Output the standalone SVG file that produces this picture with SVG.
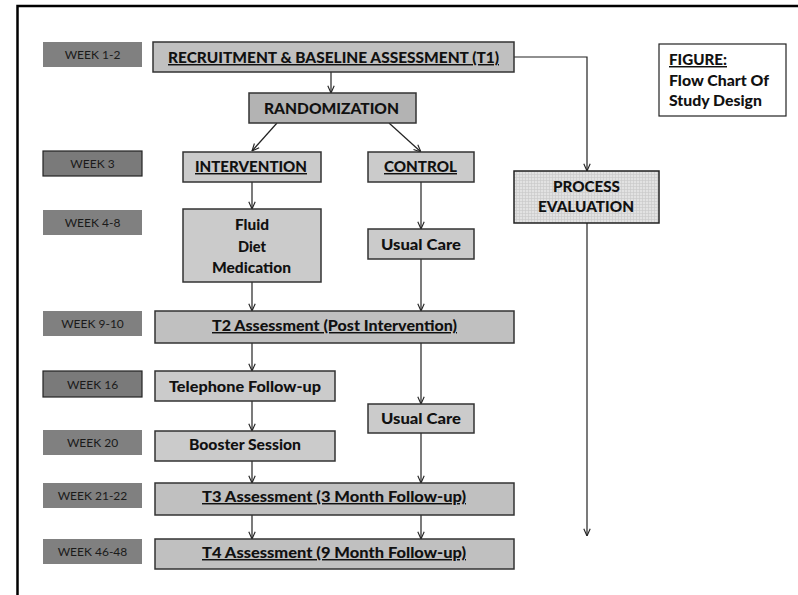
<svg xmlns="http://www.w3.org/2000/svg" width="798" height="595" viewBox="0 0 798 595">
<style>
.wk{fill:#808080;stroke:none}
.wkb{fill:#7a7a7a;stroke:#222;stroke-width:1.2}
.wt{font-family:"Lato","Liberation Sans",sans-serif;font-size:12px;fill:#1a1a1a;text-anchor:middle}
.b{stroke:#333;stroke-width:1.5}
.f1{fill:#c0c0c0}
.f2{fill:#cbcbcb}
.f3{fill:#b3b3b3}
.t{font-family:"Lato","Liberation Sans",sans-serif;font-weight:900;font-size:14.5px;fill:#111;text-anchor:middle}
.u{text-decoration:underline}
.c{fill:none;stroke:#222;stroke-width:1.2}
</style>
<defs>
<marker id="ah" viewBox="0 0 10 10" refX="10" refY="5" markerWidth="8" markerHeight="8" markerUnits="userSpaceOnUse" orient="auto">
<polyline points="1,1 10,5 1,9" fill="none" stroke="#222" stroke-width="1.4"/>
</marker>
<pattern id="grid" width="3" height="3" patternUnits="userSpaceOnUse">
<rect width="3" height="3" fill="#e2e2e2"/>
<path d="M0 0.5H3M0.5 0V3" stroke="#c8c8c8" stroke-width="0.6"/>
</pattern>
</defs>
<rect width="798" height="595" fill="#fff"/>
<path d="M17.5 600V6H800" fill="none" stroke="#000" stroke-width="2.5"/>

<g id="weeks">
<g id="w1"><rect class="wk" x="43" y="42" width="99" height="25"/><text class="wt" x="92.5" y="59">WEEK 1-2</text></g>
<g id="w3"><rect class="wkb" x="43" y="151" width="99" height="25"/><text class="wt" x="92.5" y="168">WEEK 3</text></g>
<g id="w4"><rect class="wk" x="43" y="210" width="99" height="25"/><text class="wt" x="92.5" y="227">WEEK 4-8</text></g>
<g id="w9"><rect class="wk" x="43" y="311" width="99" height="25"/><text class="wt" x="92.5" y="328">WEEK 9-10</text></g>
<g id="w16"><rect class="wkb" x="43" y="371" width="99" height="26"/><text class="wt" x="92.5" y="389">WEEK 16</text></g>
<g id="w20"><rect class="wk" x="43" y="430" width="99" height="25"/><text class="wt" x="92.5" y="447">WEEK 20</text></g>
<g id="w21"><rect class="wk" x="43" y="483" width="99" height="25"/><text class="wt" x="92.5" y="500">WEEK 21-22</text></g>
<g id="w46"><rect class="wk" x="43" y="539" width="99" height="25"/><text class="wt" x="92.5" y="556">WEEK 46-48</text></g>
</g>

<g id="connectors">
<line class="c" x1="331" y1="72" x2="331" y2="93" marker-end="url(#ah)"/>
<line class="c" x1="277" y1="123" x2="252" y2="151" marker-end="url(#ah)"/>
<line class="c" x1="389" y1="123" x2="421" y2="152" marker-end="url(#ah)"/>
<polyline class="c" points="514,57 587,57 587,171" marker-end="url(#ah)"/>
<line class="c" x1="587" y1="223" x2="587" y2="536" marker-end="url(#ah)"/>
<line class="c" x1="252" y1="182" x2="252" y2="209" marker-end="url(#ah)"/>
<line class="c" x1="421" y1="182" x2="421" y2="229" marker-end="url(#ah)"/>
<line class="c" x1="252" y1="282" x2="252" y2="311" marker-end="url(#ah)"/>
<line class="c" x1="421" y1="259" x2="421" y2="311" marker-end="url(#ah)"/>
<line class="c" x1="252" y1="343" x2="252" y2="371" marker-end="url(#ah)"/>
<line class="c" x1="421" y1="343" x2="421" y2="404" marker-end="url(#ah)"/>
<line class="c" x1="252" y1="401" x2="252" y2="431" marker-end="url(#ah)"/>
<line class="c" x1="252" y1="461" x2="252" y2="483" marker-end="url(#ah)"/>
<line class="c" x1="421" y1="433" x2="421" y2="483" marker-end="url(#ah)"/>
<line class="c" x1="252" y1="515" x2="252" y2="539" marker-end="url(#ah)"/>
<line class="c" x1="421" y1="515" x2="421" y2="539" marker-end="url(#ah)"/>
</g>

<g id="recruit"><rect class="b f1" x="153" y="42" width="361" height="30"/><text class="t u" x="333.5" y="63" textLength="331" lengthAdjust="spacingAndGlyphs">RECRUITMENT &amp; BASELINE ASSESSMENT (T1)</text></g>
<g id="random"><rect class="b f3" x="249" y="93" width="167" height="30"/><text class="t" x="331.5" y="114" font-size="15" textLength="135" lengthAdjust="spacingAndGlyphs">RANDOMIZATION</text></g>
<g id="interv"><rect class="b f2" x="183" y="152" width="138" height="30"/><text class="t u" x="251" y="172" font-size="15" textLength="112" lengthAdjust="spacingAndGlyphs">INTERVENTION</text></g>
<g id="control"><rect class="b f2" x="368" y="152" width="106" height="30"/><text class="t u" x="420.5" y="172" font-size="15" textLength="73" lengthAdjust="spacingAndGlyphs">CONTROL</text></g>
<g id="process"><rect x="514" y="171" width="145" height="52" fill="url(#grid)" stroke="#222" stroke-width="1.5"/><text class="t" x="586.5" y="192" textLength="67" lengthAdjust="spacingAndGlyphs">PROCESS</text><text class="t" x="586" y="212" textLength="96" lengthAdjust="spacingAndGlyphs">EVALUATION</text></g>
<g id="figure"><rect x="659" y="44" width="127" height="72" fill="#fff" stroke="#222" stroke-width="1.2"/>
<text class="t u" x="669" y="65" font-size="13.5" style="text-anchor:start" textLength="58" lengthAdjust="spacingAndGlyphs">FIGURE:</text>
<text class="t" x="669" y="86" font-size="13.5" style="text-anchor:start" textLength="100" lengthAdjust="spacingAndGlyphs">Flow Chart Of</text>
<text class="t" x="669" y="106" font-size="13.5" style="text-anchor:start" textLength="93" lengthAdjust="spacingAndGlyphs">Study Design</text></g>
<g id="fluid"><rect class="b f2" x="183" y="209" width="138" height="73"/>
<text class="t" x="252" y="230" textLength="34" lengthAdjust="spacingAndGlyphs">Fluid</text>
<text class="t" x="252" y="252" textLength="28" lengthAdjust="spacingAndGlyphs">Diet</text>
<text class="t" x="251.5" y="273" textLength="79" lengthAdjust="spacingAndGlyphs">Medication</text></g>
<g id="usual1"><rect class="b f2" x="368" y="229" width="106" height="30"/><text class="t" x="421" y="250" textLength="80" lengthAdjust="spacingAndGlyphs">Usual Care</text></g>
<g id="t2"><rect class="b f1" x="155" y="311" width="359" height="32"/><text class="t u" x="334.5" y="331" textLength="245" lengthAdjust="spacingAndGlyphs">T2 Assessment (Post Intervention)</text></g>
<g id="phone"><rect class="b f2" x="155" y="371" width="180" height="30"/><text class="t" x="245" y="392" textLength="152" lengthAdjust="spacingAndGlyphs">Telephone Follow-up</text></g>
<g id="usual2"><rect class="b f2" x="368" y="404" width="106" height="29"/><text class="t" x="421" y="424" textLength="80" lengthAdjust="spacingAndGlyphs">Usual Care</text></g>
<g id="booster"><rect class="b f2" x="155" y="431" width="180" height="30"/><text class="t" x="245" y="450" textLength="112" lengthAdjust="spacingAndGlyphs">Booster Session</text></g>
<g id="t3"><rect class="b f1" x="155" y="483" width="359" height="32"/><text class="t u" x="334" y="502" textLength="264" lengthAdjust="spacingAndGlyphs">T3 Assessment (3 Month Follow-up)</text></g>
<g id="t4"><rect class="b f1" x="155" y="539" width="359" height="30"/><text class="t u" x="334" y="558" textLength="264" lengthAdjust="spacingAndGlyphs">T4 Assessment (9 Month Follow-up)</text></g>
</svg>
